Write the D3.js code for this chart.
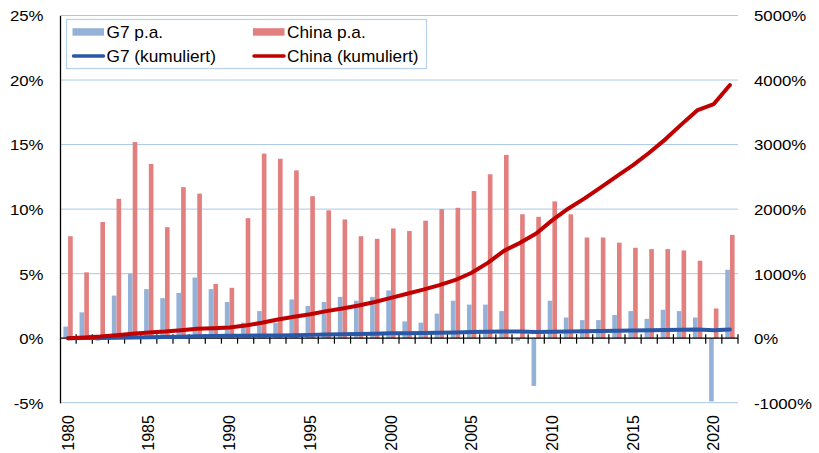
<!DOCTYPE html>
<html>
<head>
<meta charset="utf-8">
<script src="https://cdn.jsdelivr.net/npm/d3@7"></script>
<style>
  html, body { margin: 0; padding: 0; background: #fff; }
  svg { display: block; }
  text { font-family: "Liberation Sans", Arial, sans-serif; fill: #000; }
</style>
</head>
<body>
<svg id="chart" width="819" height="453"></svg>
<script>
// Jahreswachstum (%, linke Achse) und kumuliertes Wachstum seit 1980 (%, rechte Achse)
const years = d3.range(1980, 2022);

const g7Annual = [0.9, 2.0, -0.2, 3.3, 5.0, 3.8, 3.1, 3.5, 4.7, 3.8,
                  2.8, 1.2, 2.1, 1.2, 3.0, 2.5, 2.8, 3.2, 2.9, 3.2,
                  3.7, 1.3, 1.2, 1.9, 2.9, 2.6, 2.6, 2.1, -0.2, -3.7,
                  2.9, 1.6, 1.4, 1.4, 1.8, 2.1, 1.5, 2.2, 2.1, 1.6,
                  -4.9, 5.3];

const chinaAnnual = [7.9, 5.1, 9.0, 10.8, 15.2, 13.5, 8.6, 11.7, 11.2, 4.2,
                     3.9, 9.3, 14.3, 13.9, 13.0, 11.0, 9.9, 9.2, 7.9, 7.7,
                     8.5, 8.3, 9.1, 10.0, 10.1, 11.4, 12.7, 14.2, 9.6, 9.4,
                     10.6, 9.6, 7.8, 7.8, 7.4, 7.0, 6.9, 6.9, 6.8, 6.0,
                     2.3, 8.0];

const g7Cumulative = [0, 2, 2, 5, 11, 15, 18, 22, 28, 33,
                      37, 38, 41, 43, 47, 51, 55, 60, 65, 70,
                      76, 78, 80, 84, 89, 94, 99, 103, 103, 95,
                      101, 104, 107, 110, 113, 118, 121, 126, 130, 134,
                      123, 134];

const chinaCumulative = [0, 10, 25, 46, 67, 88, 103, 124, 145, 155,
                         165, 196, 238, 290, 331, 372, 419, 460, 505, 560,
                         625, 688, 752, 822, 902, 1013, 1167, 1353, 1477, 1623,
                         1829, 2010, 2166, 2336, 2512, 2682, 2873, 3081, 3313, 3535,
                         3628, 3922];

const leftTicks = [-5, 0, 5, 10, 15, 20, 25];
const rightTicks = [-1000, 0, 1000, 2000, 3000, 4000, 5000];
const yearLabels = [1980, 1985, 1990, 1995, 2000, 2005, 2010, 2015, 2020];

const seriesNames = ["G7 p.a.", "China p.a.", "G7 (kumuliert)", "China (kumuliert)"];

const colors = {
  g7Bar: "#94b2d8",
  chinaBar: "#e27f7f",
  g7Line: "#2a58a6",
  chinaLine: "#c00000",
  grid: "#a9c8e8",
  legendBorder: "#b7d2ee"
};

const plot = { left: 60, right: 738, top: 15.5, bottom: 402.7 };

const svg = d3.select("#chart");

const xCat = d3.scaleBand().domain(years).range([plot.left, plot.right]).padding(0);
const xSub = d3.scaleBand().domain(["g7", "china"]).range([0, xCat.bandwidth()])
  .paddingInner(0.02).paddingOuter(0.72);

const yL = d3.scaleLinear().domain([-5, 25]).range([plot.bottom, plot.top]);
const yR = d3.scaleLinear().domain([-1000, 5000]).range([plot.bottom, plot.top]);

// horizontal gridlines
svg.append("g")
  .selectAll("line")
  .data(leftTicks.filter(d => d !== 0))
  .join("line")
  .attr("x1", plot.left).attr("x2", plot.right)
  .attr("y1", d => yL(d)).attr("y2", d => yL(d))
  .attr("stroke", colors.grid)
  .attr("stroke-width", 1);

// bars
const barData = [];
years.forEach((yr, i) => {
  barData.push({ year: yr, key: "g7", value: g7Annual[i] });
  barData.push({ year: yr, key: "china", value: chinaAnnual[i] });
});

svg.append("g")
  .selectAll("rect")
  .data(barData)
  .join("rect")
  .attr("x", d => xCat(d.year) + xSub(d.key))
  .attr("width", xSub.bandwidth())
  .attr("y", d => yL(Math.max(0, d.value)))
  .attr("height", d => Math.abs(yL(d.value) - yL(0)))
  .attr("fill", d => d.key === "g7" ? colors.g7Bar : colors.chinaBar);

// left axis
const axisLeft = svg.append("g")
  .attr("transform", `translate(${plot.left},0)`)
  .call(d3.axisLeft(yL).tickValues(leftTicks).tickSize(0).tickFormat(d => d + "%"));
axisLeft.select(".domain").attr("stroke", "#000").attr("stroke-width", 1.3);
axisLeft.selectAll("text")
  .attr("x", 0).attr("dy", "0.36em")
  .attr("transform", "translate(-16.5,0) scale(1.12,1)")
  .attr("text-anchor", "end")
  .style("font-size", "15px");

// right axis
const axisRight = svg.append("g")
  .attr("transform", `translate(${plot.right},0)`)
  .call(d3.axisRight(yR).tickValues(rightTicks).tickSize(0).tickFormat(d => d + "%"));
axisRight.select(".domain").remove();
axisRight.selectAll("text")
  .attr("x", 0).attr("dy", "0.36em")
  .attr("transform", "translate(16,0) scale(1.12,1)")
  .attr("text-anchor", "start")
  .style("font-size", "15px");

// category axis along the zero line
const y0 = yL(0);
const axisBottom = svg.append("g")
  .attr("transform", `translate(0,${y0})`)
  .call(d3.axisBottom(xCat).tickValues(yearLabels).tickSize(0));
axisBottom.select(".domain")
  .attr("d", `M${plot.left},0H${plot.right}`)
  .attr("stroke", "#000").attr("stroke-width", 1.3);
axisBottom.selectAll("text")
  .attr("y", 0).attr("x", -77).attr("dy", "0.35em")
  .attr("transform", "rotate(-90)")
  .attr("text-anchor", "end")
  .style("font-size", "16px");

// tick marks at category boundaries
const boundaries = years.map(d => xCat(d)).concat([plot.right]).slice(1);
svg.append("g")
  .selectAll("line")
  .data(boundaries)
  .join("line")
  .attr("x1", d => d).attr("x2", d => d)
  .attr("y1", y0 - 4).attr("y2", y0 + 5.5)
  .attr("stroke", "#000").attr("stroke-width", 1.2);

// cumulative lines on the right scale
const lineGen = d3.line()
  .x((d, i) => xCat(years[i]) + xCat.bandwidth() / 2)
  .y(d => yR(d));

svg.append("path")
  .datum(g7Cumulative)
  .attr("d", lineGen)
  .attr("fill", "none")
  .attr("stroke", colors.g7Line)
  .attr("stroke-width", 4)
  .attr("stroke-linejoin", "round")
  .attr("stroke-linecap", "round");

svg.append("path")
  .datum(chinaCumulative)
  .attr("d", lineGen)
  .attr("fill", "none")
  .attr("stroke", colors.chinaLine)
  .attr("stroke-width", 4)
  .attr("stroke-linejoin", "round")
  .attr("stroke-linecap", "round");

// legend
const legend = svg.append("g").attr("transform", "translate(66.5,19.5)");
legend.append("rect")
  .attr("width", 360).attr("height", 49)
  .attr("fill", "#fff")
  .attr("stroke", colors.legendBorder)
  .attr("stroke-width", 1.2);

const legendItems = [
  { name: seriesNames[0], type: "bar", color: colors.g7Bar, col: 0, row: 0 },
  { name: seriesNames[1], type: "bar", color: colors.chinaBar, col: 1, row: 0 },
  { name: seriesNames[2], type: "line", color: colors.g7Line, col: 0, row: 1 },
  { name: seriesNames[3], type: "line", color: colors.chinaLine, col: 1, row: 1 }
];

const item = legend.selectAll("g.item")
  .data(legendItems)
  .join("g")
  .attr("class", "item")
  .attr("transform", d => `translate(${6 + d.col * 180.5},${12.5 + d.row * 24})`);

item.filter(d => d.type === "bar").append("rect")
  .attr("x", 0).attr("y", -3.8).attr("width", 31.5).attr("height", 7.5)
  .attr("fill", d => d.color);

item.filter(d => d.type === "line").append("line")
  .attr("x1", 1).attr("x2", 31)
  .attr("stroke", d => d.color)
  .attr("stroke-width", 3.5)
  .attr("stroke-linecap", "round");

item.append("text")
  .attr("dy", "0.36em")
  .attr("transform", "translate(34,0) scale(1.08,1)")
  .style("font-size", "16px")
  .text(d => d.name);
</script>
</body>
</html>
